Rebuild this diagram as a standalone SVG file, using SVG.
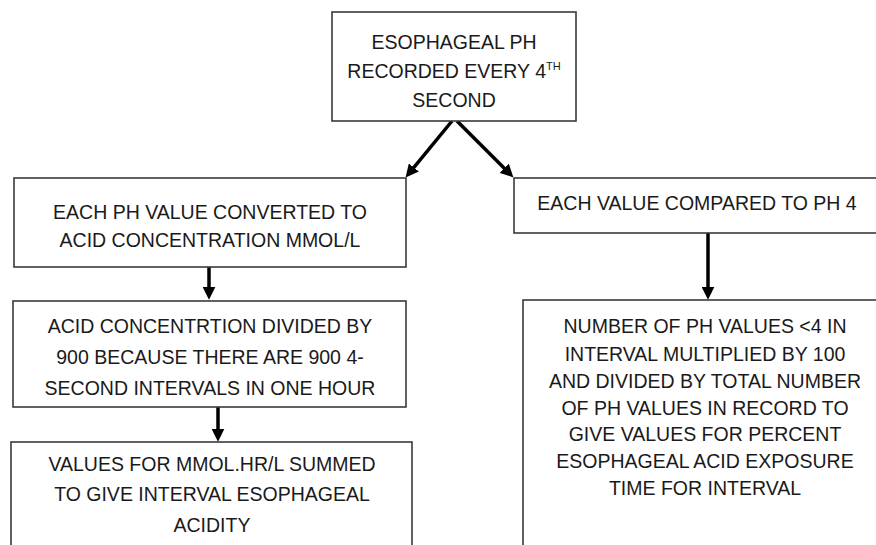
<svg xmlns="http://www.w3.org/2000/svg" width="876" height="545" viewBox="0 0 876 545">
<style>
.box{fill:#fff;stroke:#3a3a3a;stroke-width:1.6}
.t{font-family:"Liberation Sans",Arial,sans-serif;font-size:19.5px;fill:#1a1a1a;text-anchor:middle}
.sup{font-size:11px}
.c{stroke:#000;stroke-width:3.5;fill:none;marker-end:url(#ah)}
</style>
<defs>
<marker id="ah" markerUnits="userSpaceOnUse" markerWidth="13" markerHeight="13" refX="4" refY="6" orient="auto" viewBox="0 0 12 12">
<path d="M0,0 L12,6 L0,12 z" fill="#000"/>
</marker>
</defs>
<rect width="876" height="545" fill="#fff"/>
<g id="connectors">
<line class="c" x1="452" y1="121" x2="411.1" y2="170.8"/>
<line class="c" x1="457" y1="121" x2="507.3" y2="171.3"/>
<line class="c" x1="209" y1="267" x2="209" y2="291"/>
<line class="c" x1="708" y1="233" x2="708" y2="291"/>
<line class="c" x1="218" y1="407" x2="218" y2="433"/>
</g>
<g id="n-top">
<rect class="box" x="332" y="12" width="244" height="109"/>
<text class="t" x="454" y="49">ESOPHAGEAL PH</text>
<text class="t" x="454" y="78">RECORDED EVERY 4<tspan class="sup" dy="-8">TH</tspan></text>
<text class="t" x="454" y="107">SECOND</text>
</g>
<g id="n-convert">
<rect class="box" x="14" y="178" width="392" height="89"/>
<text class="t" x="210" y="219">EACH PH VALUE CONVERTED TO</text>
<text class="t" x="210" y="247">ACID CONCENTRATION MMOL/L</text>
</g>
<g id="n-compare">
<rect class="box" x="514" y="178" width="370" height="55"/>
<text class="t" x="697" y="210">EACH VALUE COMPARED TO PH 4</text>
</g>
<g id="n-divide">
<rect class="box" x="13" y="301" width="393" height="106"/>
<text class="t" x="210" y="333">ACID CONCENTRTION DIVIDED BY</text>
<text class="t" x="210" y="364">900 BECAUSE THERE ARE 900 4-</text>
<text class="t" x="210" y="395">SECOND INTERVALS IN ONE HOUR</text>
</g>
<g id="n-sum">
<rect class="box" x="11" y="442" width="401" height="120"/>
<text class="t" x="212" y="471">VALUES FOR MMOL.HR/L SUMMED</text>
<text class="t" x="212" y="501">TO GIVE INTERVAL ESOPHAGEAL</text>
<text class="t" x="212" y="532">ACIDITY</text>
</g>
<g id="n-percent">
<rect class="box" x="523" y="300" width="370" height="260"/>
<text class="t" x="705" y="333">NUMBER OF PH VALUES &lt;4 IN</text>
<text class="t" x="705" y="361">INTERVAL MULTIPLIED BY 100</text>
<text class="t" x="705" y="388">AND DIVIDED BY TOTAL NUMBER</text>
<text class="t" x="705" y="415">OF PH VALUES IN RECORD TO</text>
<text class="t" x="705" y="441">GIVE VALUES FOR PERCENT</text>
<text class="t" x="705" y="468">ESOPHAGEAL ACID EXPOSURE</text>
<text class="t" x="705" y="495">TIME FOR INTERVAL</text>
</g>
</svg>
